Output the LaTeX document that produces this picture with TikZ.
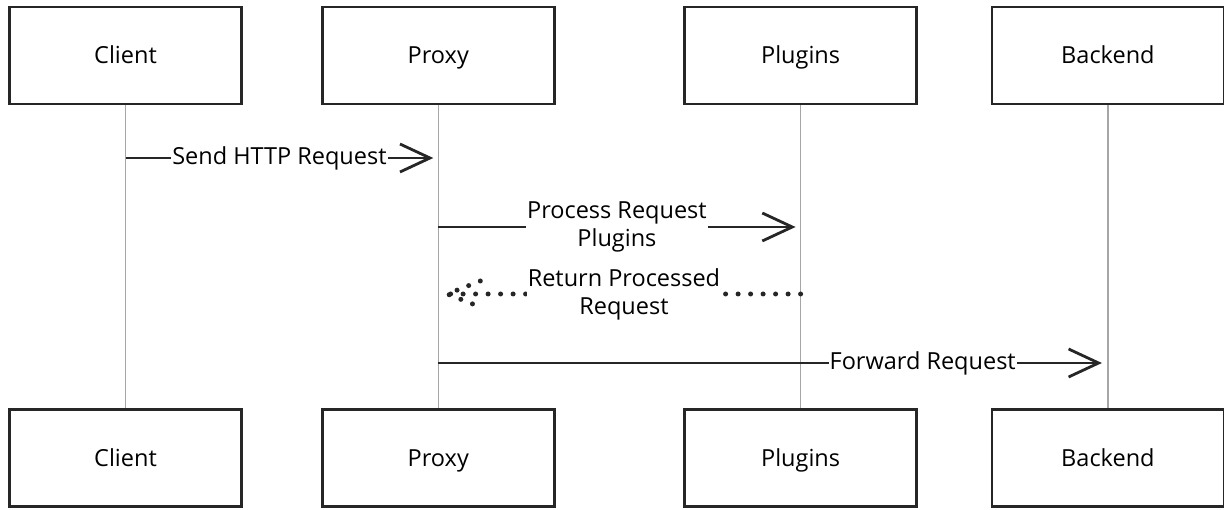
\documentclass[tikz,border=0pt]{standalone}
\usepackage{fontspec}
\setmainfont{Open Sans}
\usetikzlibrary{positioning,arrows.meta,calc}

\tikzset{
  actor/.style={draw=black!85, line width=2.8pt, minimum width=232pt,
    minimum height=97pt, text height=19pt, text depth=2pt,
    font=\fontsize{23.5}{28}\selectfont},
  life/.style={draw=black!35, line width=1.3pt},
  msg/.style={draw=black!85, line width=2.8pt,
    -{Straight Barb[length=30pt,width=28pt,line width=2.8pt]}},
  ret/.style={draw=black!85, line width=5pt, line cap=round,
    dash pattern=on 0pt off 12.5pt},
  lbl/.style={fill=white, inner sep=1pt, align=center,
    font=\fontsize{23.5}{28}\selectfont},
}

\begin{document}
\begin{tikzpicture}[x=1pt, y=-1pt]
    \useasboundingbox (0,0) rectangle (1224,510);

    % participants, top row
    \node[actor] at (125.5,55.5) (ctop) {Client};
    \node[actor, right=78pt of ctop]  (ptop) {Proxy};
    \node[actor, right=127.5pt of ptop] (gtop) {Plugins};
    \node[actor, right=72.5pt of gtop]  (btop) {Backend};

    % participants, bottom row
    \foreach \n/\t in {c/Client, p/Proxy, g/Plugins, b/Backend}
        \node[actor, below=302.4pt of \n top] (\n bot) {\t};

    % lifelines
    \foreach \n in {c,p,g,b}
        \draw[life] (\n top) -- (\n bot);

    % message rows
    \coordinate (r1) at (0,158);
    \coordinate (r2) at (0,227);
    \coordinate (r3) at (0,294);
    \coordinate (r4) at (0,363);

    \draw[msg] (ctop |- r1) -- node[lbl] {Send HTTP Request} ($(ptop |- r1)+(-5,0)$);
    \draw[msg] (ptop |- r2) -- node[lbl] {Process Request\\Plugins} ($(gtop |- r2)+(-5,0)$);
    \draw[ret] (gtop |- r3) -- node[lbl] {Return Processed\\Request} ($(ptop |- r3)+(9,0)$) coordinate (rtip);
    \draw[ret] ($(rtip)+(33,-13)$) -- (rtip) -- ($(rtip)+(33,13)$);
    \draw[msg] (ptop |- r4) -- node[lbl, pos=0.73] {Forward Request} ($(btop |- r4)+(-6,0)$);

\end{tikzpicture}
\end{document}
